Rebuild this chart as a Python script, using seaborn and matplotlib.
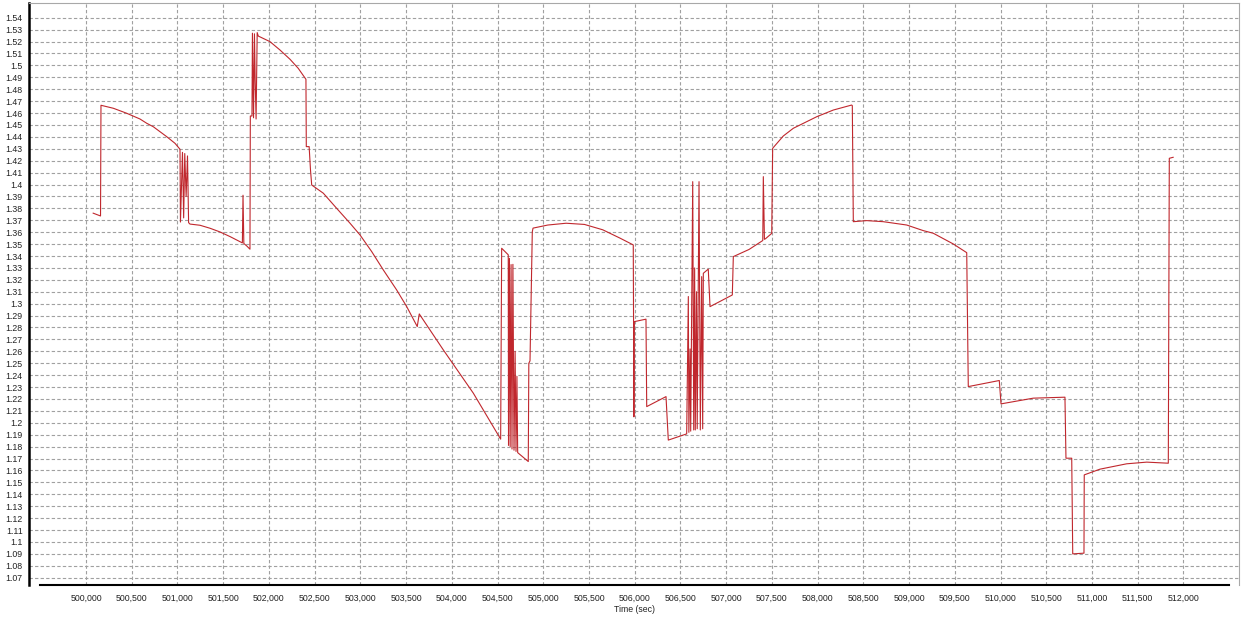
import matplotlib
matplotlib.use("Agg")
import matplotlib.pyplot as plt
import seaborn as sns
import pandas as pd
from matplotlib.ticker import FixedLocator, FuncFormatter

# ---- data ----
time_sec = [
    500077, 500159, 500164, 500299, 500445, 500590, 500664, 500736, 500882, 500973, 501028,
    501033, 501055, 501068, 501080, 501095, 501110, 501122, 501137,
    501247, 501356, 501465, 501575, 501684, 501710, 501717, 501726, 501757, 501793,
    501797, 501815, 501820, 501832, 501842, 501850, 501860, 501872, 501884,
    502012, 502121, 502231, 502321, 502405, 502409, 502440, 502455, 502468,
    502595, 502741, 502887, 502996, 503124, 503251, 503397, 503507, 503622, 503644,
    503907, 504235, 504534,
    504545, 504617, 504620, 504630, 504638, 504648, 504658, 504668, 504680,
    504692, 504702, 504712, 504720, 504836, 504842, 504855, 504880, 504888,
    505050, 505250, 505450, 505650, 505839, 505984,
    505987, 505991, 505995, 506123, 506131, 506342, 506367, 506568,
    506586, 506592, 506605, 506612, 506634, 506645, 506655, 506662, 506675,
    506683, 506703, 506717, 506732, 506743, 506750, 506804, 506823,
    507067, 507078, 507250, 507400, 507406, 507418, 507430, 507498, 507508,
    507624, 507734, 507880, 507990, 508099, 508171, 508244, 508372, 508379, 508390,
    508536, 508718, 508974, 509155, 509264, 509483, 509630, 509647, 509986, 510005,
    510358, 510704, 510715, 510778, 510789, 510912, 510915, 511087, 511379,
    511598, 511834, 511845, 511889,
]
value = [
    1.376, 1.3736, 1.4665, 1.4640, 1.4598, 1.4550, 1.4514, 1.4485, 1.4402, 1.4346, 1.4296,
    1.3685, 1.427, 1.372, 1.426, 1.39, 1.424, 1.368, 1.3668,
    1.3658, 1.3633, 1.3602, 1.3563, 1.3521, 1.351, 1.391, 1.3505, 1.3485, 1.3457,
    1.4575, 1.4575, 1.527, 1.456, 1.5265, 1.4875, 1.455, 1.5275, 1.5246,
    1.5199, 1.5129, 1.5051, 1.4975, 1.4883, 1.4318, 1.4318, 1.412, 1.3996,
    1.3927, 1.380, 1.3675, 1.3577, 1.3437, 1.3283, 1.3115, 1.2975, 1.2808, 1.2914,
    1.2612, 1.2249, 1.1863,
    1.3465, 1.341, 1.181, 1.338, 1.180, 1.3328, 1.178, 1.333, 1.177,
    1.26, 1.176, 1.239, 1.175, 1.1675, 1.25, 1.252, 1.3603, 1.3634,
    1.366, 1.3675, 1.3665, 1.362, 1.355, 1.3493,
    1.2849, 1.205, 1.2849, 1.287, 1.2136, 1.222, 1.1855, 1.1907,
    1.306, 1.192, 1.262, 1.193, 1.4024, 1.194, 1.33, 1.194, 1.31,
    1.195, 1.4024, 1.194, 1.3227, 1.195, 1.3255, 1.329, 1.2975,
    1.3073, 1.3395, 1.3455, 1.353, 1.4066, 1.354, 1.3545, 1.359, 1.4304,
    1.4407, 1.4472, 1.4527, 1.4569, 1.4603, 1.4625, 1.4640, 1.4667, 1.4662, 1.3688,
    1.3697, 1.3688, 1.366, 1.3613, 1.3591, 1.3501, 1.3428, 1.2304, 1.2355, 1.2159,
    1.2207, 1.2215, 1.1703, 1.1703, 1.09, 1.0906, 1.1563, 1.1611, 1.1656,
    1.167, 1.1661, 1.422, 1.4229,
]
x_ticks = list(range(500000, 512001, 500))
y_ticks = [round(1.07 + 0.01 * i, 2) for i in range(48)]
x_label = "Time (sec)"

# ---- drawing ----
sns.set_style("white")
plt.rcParams["font.family"] = ["Liberation Sans", "DejaVu Sans"]

W, H = 1241, 618
fig = plt.figure(figsize=(W / 100, H / 100), dpi=100)
ax = fig.add_axes([29 / W, 1 - 585 / H, 1210 / W, 582 / H])

df = pd.DataFrame({"t": time_sec, "v": value})
sns.lineplot(data=df, x="t", y="v", sort=False, estimator=None,
             color="#c0272d", linewidth=0.8, ax=ax, zorder=3)

ax.set_xlim(499377, 512607)
ax.set_ylim(1.06388, 1.55234)

ax.xaxis.set_major_locator(FixedLocator(x_ticks))
ax.xaxis.set_minor_locator(FixedLocator(list(range(499500, 512501, 100))))
ax.xaxis.set_major_formatter(FuncFormatter(lambda v, p: f"{int(round(v)):,}"))
ax.yaxis.set_major_locator(FixedLocator(y_ticks))
ax.yaxis.set_major_formatter(FuncFormatter(lambda v, p: f"{v:g}"))

grid_kw = dict(color="#a0a0a0", linestyle=(0, (3, 2)), linewidth=0.8)
ax.grid(True, which="major", axis="both", **grid_kw)
ax.set_axisbelow(True)

ax.tick_params(axis="y", which="major", direction="out", length=3, width=0.8,
               color="#333333", pad=1.5, labelsize=6.3, labelcolor="#222222")
ax.tick_params(axis="x", which="major", direction="out", length=3, width=0.6,
               color="#777777", pad=3, labelsize=6.3, labelcolor="#222222")
ax.tick_params(axis="x", which="minor", direction="out", length=2.5, width=0.6,
               color="#999999")

for side in ("top", "right"):
    ax.spines[side].set_color("#a8a8a8")
    ax.spines[side].set_linewidth(0.8)
ax.spines["left"].set_color("black")
ax.spines["left"].set_linewidth(1.8)
ax.spines["bottom"].set_color("black")
ax.spines["bottom"].set_linewidth(1.5)
ax.spines["bottom"].set_bounds(499500, 512500)

ax.set_xlabel(x_label, fontsize=6.3, labelpad=2, color="#222222")
ax.set_ylabel("")

fig.savefig("out.png", dpi=100)
